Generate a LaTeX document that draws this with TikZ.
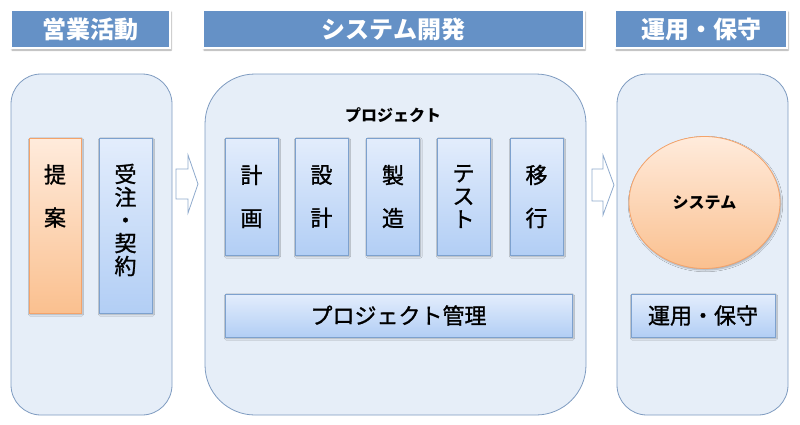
\documentclass[tikz,border=0pt]{standalone}
\usepackage{fontspec}
\newfontfamily\jp{Noto Sans CJK JP}
\newfontfamily\jpm[FakeBold=1.2]{Noto Sans CJK JP}
\usetikzlibrary{shapes.geometric,shadows.blur}
\definecolor{hdr}{HTML}{6591C6}
\definecolor{panel}{HTML}{E6EEF8}
\definecolor{panelline}{HTML}{7E9BC0}
\definecolor{btop}{HTML}{E3EDFC}
\definecolor{bbot}{HTML}{B2CEF5}
\definecolor{bline}{HTML}{7DA1CE}
\definecolor{otop}{HTML}{FFEBDC}
\definecolor{obot}{HTML}{FAC08F}
\definecolor{oline}{HTML}{F4A36A}
\definecolor{arrline}{HTML}{8FAACD}
\tikzset{
  hdrbox/.style={rectangle, fill=hdr, draw=white, line width=1.5pt, minimum height=38pt,
    text=white, font=\jp\bfseries\fontsize{24}{26}\selectfont,
    blur shadow={shadow blur steps=6, shadow xshift=1pt, shadow yshift=-2pt, shadow opacity=35}},
  panelbox/.style={rectangle, fill=panel, draw=panelline, line width=0.8pt, minimum height=341pt},
  bluebox/.style={rectangle, top color=btop, bottom color=bbot, draw=bline, line width=0.8pt,
    blur shadow={shadow blur steps=5, shadow xshift=1pt, shadow yshift=-1.5pt, shadow opacity=30}},
  orangebox/.style={rectangle, top color=otop, bottom color=obot, draw=oline, line width=0.8pt,
    blur shadow={shadow blur steps=5, shadow xshift=1pt, shadow yshift=-1.5pt, shadow opacity=30}},
  boxtext/.style={font=\jpm\fontsize{22}{43}\selectfont, align=center, inner sep=0pt},
  tighttext/.style={font=\jpm\fontsize{22}{23}\selectfont, align=center, inner sep=0pt},
  flowarrow/.style={fill=white, draw=arrline, line width=0.8pt, line join=miter},
}
\begin{document}
\begin{tikzpicture}[x=1pt,y=-1pt]
\useasboundingbox (0,0) rectangle (800,424);
% headers
\node[hdrbox, minimum width=159pt] (h1) at (90.5,29) {営業活動};
\node[hdrbox, minimum width=381pt] (h2) at (393.5,29) {システム開発};
\node[hdrbox, minimum width=172pt] (h3) at (701,29) {運用・保守};
% panels
\node[panelbox, minimum width=161pt, rounded corners=30pt] (p1) at (91.5,244.5) {};
\node[panelbox, minimum width=381pt, rounded corners=50pt] (p2) at (395.5,244.5) {};
\node[panelbox, minimum width=171pt, rounded corners=30pt] (p3) at (702.5,244.5) {};
% sales
\node[orangebox, minimum width=52pt, minimum height=175pt] (teian) at (55,225.5) {};
\node[boxtext] (teiant) at (55,196) {提\\案};
\node[bluebox, minimum width=53pt, minimum height=175pt] (juchu) at (125.5,225.5) {};
\node[tighttext] (jucht) at (125.5,220) {受\\注\\・\\契\\約};
% project
\node[font=\jp\bfseries\fontsize{16}{18}\selectfont] (proj) at (393,115) {プロジェクト};
\node[bluebox, minimum width=53pt, minimum height=117pt] (keikaku) at (251.5,196.5) {};
\node[boxtext] at (keikaku.center) {計\\画};
\node[bluebox, minimum width=53pt, minimum height=117pt] (sekkei) at (321.5,196.5) {};
\node[boxtext] at (sekkei.center) {設\\計};
\node[bluebox, minimum width=53pt, minimum height=117pt] (seizo) at (393,196.5) {};
\node[boxtext] at (seizo.center) {製\\造};
\node[bluebox, minimum width=53pt, minimum height=117pt] (test) at (463.5,196.5) {};
\node[tighttext] at (test.center) {テ\\ス\\ト};
\node[bluebox, minimum width=53pt, minimum height=117pt] (ikou) at (536.5,196.5) {};
\node[boxtext] at (ikou.center) {移\\行};
\node[bluebox, minimum width=347pt, minimum height=43pt, font=\jpm\fontsize{22}{24}\selectfont] (pm) at (398.5,315.5) {プロジェクト管理};
% operation
\node[ellipse, minimum width=151pt, minimum height=132pt, top color=otop, bottom color=obot, draw=oline, line width=0.8pt,
  blur shadow={shadow blur steps=5, shadow xshift=1pt, shadow yshift=-1.5pt, shadow opacity=30},
  font=\jp\bfseries\fontsize{16}{18}\selectfont] (sys) at (704.5,202.5) {システム};
\node[bluebox, minimum width=144pt, minimum height=43pt, font=\jpm\fontsize{22}{24}\selectfont] (unyo) at (703,315.5) {運用・保守};
% flow arrows
\draw[flowarrow] (176,169) -- (188,169) -- (188,155) -- (198,184) -- (188,213) -- (188,199) -- (176,199) -- cycle;
\draw[flowarrow] (592,169) -- (603,169) -- (603,155) -- (614,185) -- (603,215) -- (603,201) -- (592,201) -- cycle;
\end{tikzpicture}
\end{document}
